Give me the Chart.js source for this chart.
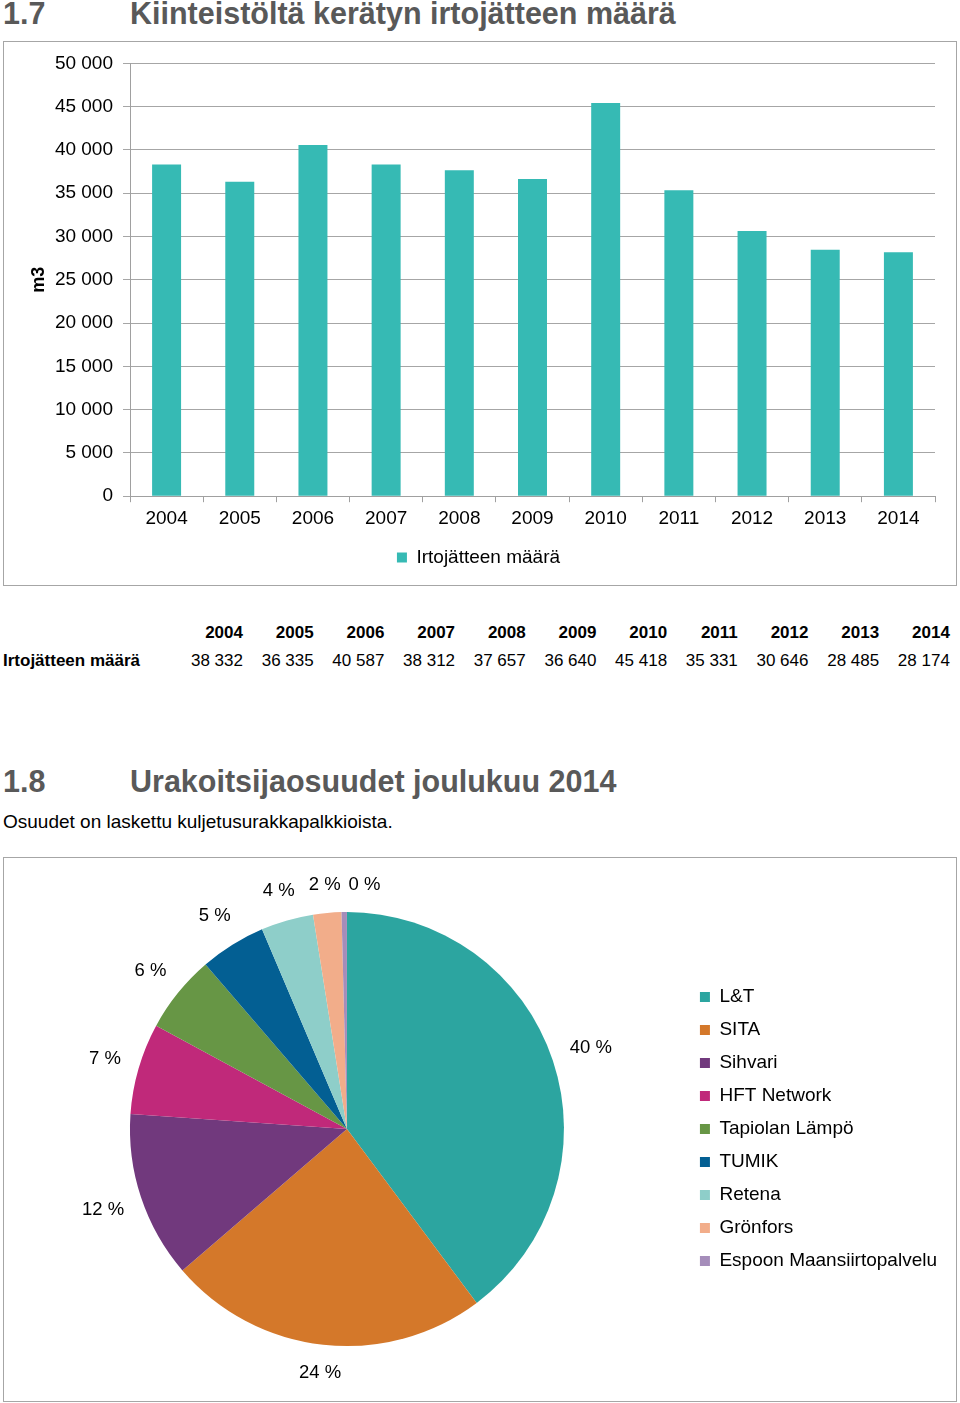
<!DOCTYPE html>
<html>
<head>
<meta charset="utf-8">
<script src="https://cdn.jsdelivr.net/npm/chart.js@4.4.1/dist/chart.umd.min.js"></script>
<style>
  html, body { margin: 0; padding: 0; background: #fff; }
  body { width: 960px; height: 1403px; position: relative; overflow: hidden; font-family: "Liberation Sans", Arial, sans-serif; }
  .h { position: absolute; font-weight: bold; color: #595959; font-size: 30.5px; line-height: 1; white-space: nowrap; }
  .box { position: absolute; box-sizing: border-box; border: 1px solid #a6a6a6; }
  .box canvas { display: block; }
  .sub { position: absolute; left: 3px; top: 811px; font-size: 19px; color: #000; white-space: nowrap; }
  table { position: absolute; left: 0; top: 619px; border-collapse: collapse; font-family: "Liberation Sans Narrow", "Arial Narrow", "Liberation Sans", sans-serif; font-size: 17px; color: #000; }
  td { padding: 0; height: 28px; text-align: right; white-space: nowrap; }
  td.lbl { text-align: left; font-weight: bold; padding-left: 3px; width: 169.3px; }
  td.yc { width: 70.7px; }
  tr.head td { font-weight: bold; }
</style>
</head>
<body>
<div class="h" style="left:3px; top:-2px;">1.7</div>
<div class="h" style="left:130px; top:-2px;">Kiinteistöltä kerätyn irtojätteen määrä</div>
<div class="box" style="left:3px; top:41px; width:954px; height:545px;"><canvas id="bar" width="952" height="543"></canvas></div>
<table id="tbl"></table>
<div class="h" style="left:3px; top:766px;">1.8</div>
<div class="h" style="left:130px; top:766px;">Urakoitsijaosuudet joulukuu 2014</div>
<div class="sub">Osuudet on laskettu kuljetusurakkapalkkioista.</div>
<div class="box" style="left:3px; top:857px; width:954px; height:545px;"><canvas id="pie" width="952" height="543"></canvas></div>
<script>
// ---- Data ----
const years = ["2004","2005","2006","2007","2008","2009","2010","2011","2012","2013","2014"];
const wasteVolume = [38332, 36335, 40587, 38312, 37657, 36640, 45418, 35331, 30646, 28485, 28174];
const seriesName = "Irtojätteen määrä";
const yTicks = [0, 5000, 10000, 15000, 20000, 25000, 30000, 35000, 40000, 45000, 50000];

const contractors = ["L&T","SITA","Sihvari","HFT Network","Tapiolan Lämpö","TUMIK","Retena","Grönfors","Espoon Maansiirtopalvelu"];
const shares = [39.8, 23.9, 12.4, 6.8, 5.8, 4.9, 3.9, 2.1, 0.4];
const pieColors = ["#2ca5a0","#d4782a","#71397d","#c0297a","#679645","#035f93","#8ecec9","#f2ad8a","#a58dba"];

const fmt = v => String(v).replace(/\B(?=(\d{3})+(?!\d))/g, " ");

// ---- Table ----
const tbl = document.getElementById('tbl');
let head = '<tr class="head"><td class="lbl"></td>' + years.map(y => '<td class="yc">' + y + '</td>').join('') + '</tr>';
let row = '<tr><td class="lbl">' + seriesName + '</td>' + wasteVolume.map(v => '<td class="yc">' + fmt(v) + '</td>').join('') + '</tr>';
tbl.innerHTML = head + row;

Chart.defaults.font.family = '"Liberation Sans", Arial, sans-serif';
Chart.defaults.color = '#000';

// ---- Bar chart ----
new Chart(document.getElementById('bar'), {
  type: 'bar',
  data: { labels: years, datasets: [{ label: seriesName, data: wasteVolume, backgroundColor: '#36bab4', barPercentage: 0.396, categoryPercentage: 1 }] },
  options: {
    responsive: false, animation: false,
    layout: { padding: { top: 20, right: 21, bottom: 8, left: 18 } },
    plugins: {
      legend: { position: 'bottom', labels: { boxWidth: 10, boxHeight: 10, padding: 10, font: { size: 19 }, color: '#000' } },
      tooltip: { enabled: false }
    },
    scales: {
      x: {
        afterFit: s => { s.height = s.height + 3; },
        grid: { display: true, drawOnChartArea: false, drawTicks: true, tickLength: 6, offset: true, color: '#a0a0a0' },
        border: { color: '#a0a0a0' },
        ticks: { font: { size: 19 }, padding: 5, color: '#000' }
      },
      y: {
        min: 0, max: 50000,
        afterBuildTicks: s => { s.ticks = yTicks.map(v => ({ value: v })); },
        afterFit: s => { s.width = 108; },
        grid: { color: '#a6a6a6', tickLength: 7 },
        border: { color: '#a0a0a0' },
        ticks: { font: { size: 19 }, padding: 10, color: '#000', callback: v => fmt(v) },
        title: { display: true, text: 'm3', font: { size: 18, weight: 'bold' }, color: '#000', padding: { top: 6, bottom: 0 } }
      }
    }
  }
});

// ---- Pie chart ----
const outsideLabels = {
  id: 'outsideLabels',
  afterDatasetsDraw(chart) {
    const ctx = chart.ctx;
    const meta = chart.getDatasetMeta(0);
    const data = chart.data.datasets[0].data;
    const total = data.reduce((a, b) => a + b, 0);
    ctx.save();
    ctx.font = '18.5px "Liberation Sans", Arial, sans-serif';
    ctx.fillStyle = '#000';
    ctx.textAlign = 'center';
    ctx.textBaseline = 'middle';
    const h = 19;
    let prev = null;
    meta.data.forEach((arc, i) => {
      const p = arc.getProps(['x','y','startAngle','endAngle','outerRadius'], true);
      const mid = (p.startAngle + p.endAngle) / 2;
      const txt = Math.round(data[i] / total * 100) + ' %';
      const w = ctx.measureText(txt).width;
      const c = Math.cos(mid), s = Math.sin(mid);
      const r = p.outerRadius + 17 + Math.abs(c) * w / 2 + Math.abs(s) * h / 2;
      let x = p.x + c * r;
      const y = p.y + s * r;
      if (prev && Math.abs(prev.y - y) < 20 && x - w / 2 < prev.x + prev.w / 2 + 8 && x >= prev.x - 5) {
        x = prev.x + prev.w / 2 + 8 + w / 2;
      }
      ctx.fillText(txt, x, y);
      prev = { x, y, w };
    });
    ctx.restore();
  }
};

new Chart(document.getElementById('pie'), {
  type: 'pie',
  data: { labels: contractors, datasets: [{ data: shares, backgroundColor: pieColors, borderWidth: 0 }] },
  options: {
    responsive: false, animation: false,
    layout: { padding: { top: 54, bottom: 55, left: 4, right: 9 } },
    plugins: {
      legend: { position: 'right', labels: { boxWidth: 10, boxHeight: 10, padding: 14, font: { size: 19 }, color: '#000' } },
      tooltip: { enabled: false }
    }
  },
  plugins: [outsideLabels]
});
</script>
</body>
</html>
